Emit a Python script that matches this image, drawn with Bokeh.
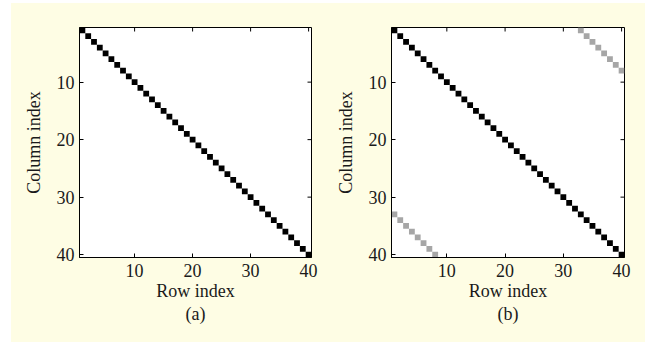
import math
from bokeh.plotting import figure
from bokeh.models import (ColumnDataSource, LinearColorMapper, Range1d, FixedTicker,
                          Title, Spacer)
from bokeh.layouts import row, column
from bokeh.palettes import Greys256
from bokeh.embed import file_html
from bokeh.resources import INLINE

# ---------------- data ----------------
n_size = 40
tick_values = [10, 20, 30, 40]

# (a) pure diagonal
a_rows = list(range(1, 41))
a_cols = list(range(1, 41))
a_vals = [1.0] * 40

# (b) diagonal plus wrap-around band (offset 32)
b_diag_rows = list(range(1, 41))
b_diag_cols = list(range(1, 41))
b_diag_vals = [1.0] * 40
b_wrap_rows = [33, 34, 35, 36, 37, 38, 39, 40, 1, 2, 3, 4, 5, 6, 7, 8]
b_wrap_cols = [1, 2, 3, 4, 5, 6, 7, 8, 33, 34, 35, 36, 37, 38, 39, 40]
b_wrap_vals = [0.35] * 16

captions = ["(a)", "(b)"]
x_label = "Row index"
y_label = "Column index"

# ---------------- style ----------------
CREAM = "#FEFDE4"
FONT = "Liberation Serif"
FS = "18px"
TXT = "#1a1a1a"


def make_panel(rows, cols, vals, caption, width, bl, br, bt, bb):
    lo, hi = 0.5, n_size + 0.5
    p = figure(width=width, height=339,
               x_range=Range1d(lo, hi),
               y_range=Range1d(hi, lo),
               output_backend="svg", toolbar_location=None,
               min_border_left=bl, min_border_right=br,
               min_border_top=bt, min_border_bottom=bb,
               styles={"background-color": CREAM})
    p.background_fill_color = "white"
    p.border_fill_color = None
    p.outline_line_color = "black"
    p.outline_line_width = 1
    p.grid.visible = False

    mapper = LinearColorMapper(palette=list(reversed(Greys256)), low=0, high=1)
    src = ColumnDataSource(dict(r=rows, c=cols, v=vals))
    p.rect(x="r", y="c", width=1, height=1, source=src,
           fill_color={"field": "v", "transform": mapper}, line_color=None)

    for ax in [p.xaxis[0], p.yaxis[0]]:
        ax.ticker = FixedTicker(ticks=tick_values)
        ax.minor_tick_line_color = None
        ax.major_tick_in = 4
        ax.major_tick_out = 0
        ax.axis_line_color = "black"
        ax.major_tick_line_color = "black"
        ax.major_label_text_font = FONT
        ax.major_label_text_font_size = FS
        ax.major_label_text_color = TXT
        ax.axis_label_text_font = FONT
        ax.axis_label_text_font_size = FS
        ax.axis_label_text_font_style = "normal"
        ax.axis_label_text_color = TXT
    p.xaxis[0].axis_label = x_label
    p.yaxis[0].axis_label = y_label
    p.xaxis[0].major_label_standoff = 6
    p.xaxis[0].axis_label_standoff = 1
    p.xaxis[0].axis_label_text_line_height = 0.9
    p.yaxis[0].major_label_standoff = 5
    p.yaxis[0].axis_label_standoff = 10

    # inward ticks on the top and right edges of the box
    p.ray(x=tick_values, y=[lo] * len(tick_values), length=4, length_units="screen",
          angle=-math.pi / 2, line_color="black", line_width=1)
    p.ray(x=[hi] * len(tick_values), y=tick_values, length=4, length_units="screen",
          angle=math.pi, line_color="black", line_width=1)

    p.add_layout(Title(text=caption, align="center", text_font=FONT,
                       text_font_size=FS, text_font_style="normal",
                       text_color=TXT, standoff=-3, text_line_height=0.9), "below")
    return p


p1 = make_panel(a_rows, a_cols, a_vals, captions[0], 317, 68, 17, 24, 85)
p2 = make_panel(b_diag_rows + b_wrap_rows, b_diag_cols + b_wrap_cols,
                b_diag_vals + b_wrap_vals, captions[1], 317, 63, 21, 23, 84)

inner = row(p1, p2, spacing=0, styles={"background-color": CREAM})
layout = row(Spacer(width=11, height=342, styles={"background-color": "white"}),
             column(Spacer(width=634, height=3, styles={"background-color": "white"}),
                    inner, spacing=0, styles={"background-color": CREAM}),
             spacing=0, styles={"background-color": CREAM})

open("out.html", "w").write(file_html(layout, INLINE))
